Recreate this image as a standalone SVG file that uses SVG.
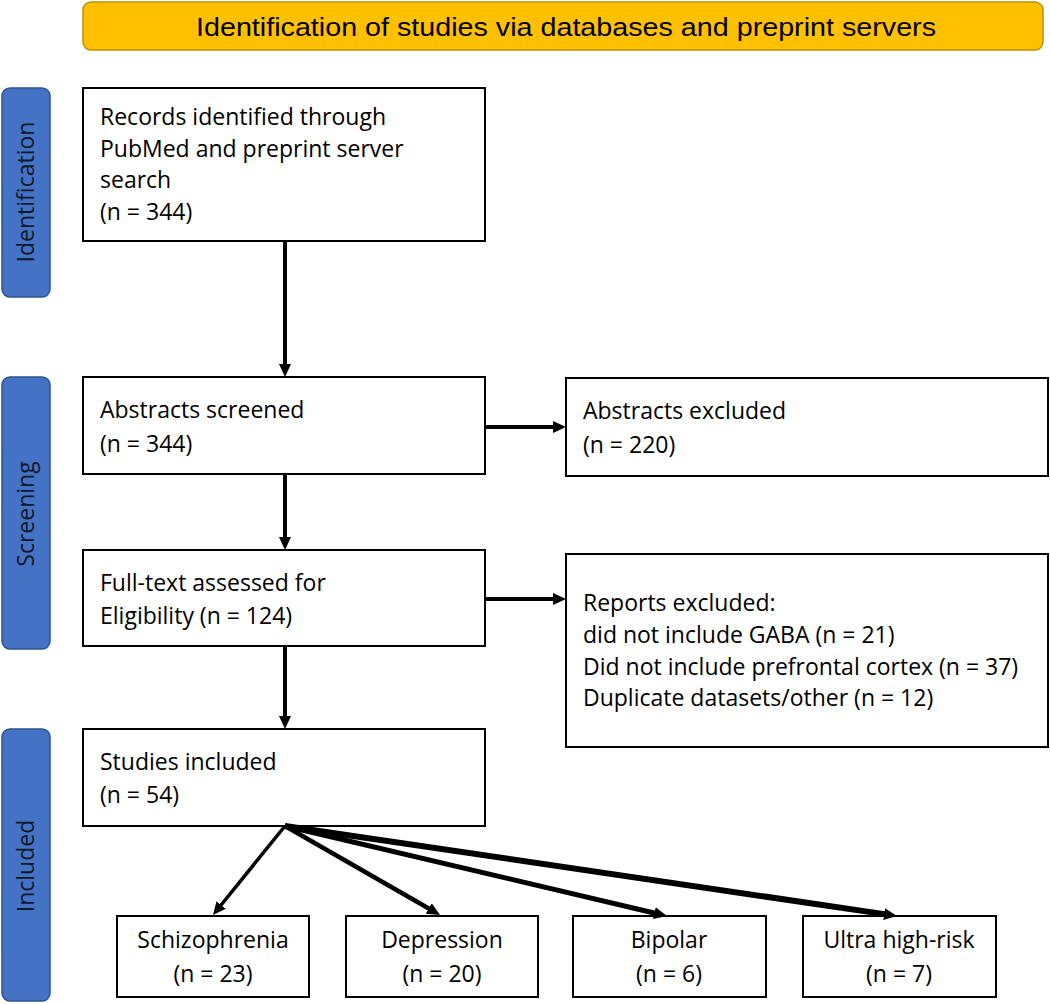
<svg xmlns="http://www.w3.org/2000/svg" width="1050" height="1004" viewBox="0 0 1050 1004">
<style>
.box{fill:#fff;stroke:#000;stroke-width:2}
.side{fill:#4472C4;stroke:#2F528F;stroke-width:1.5}
.t{font-family:"Open Sans","Liberation Sans",sans-serif;font-size:23px;fill:#000}
.st{font-family:"Open Sans","Liberation Sans",sans-serif;font-size:23px;fill:#111827;text-anchor:middle}
.c{text-anchor:middle}
.arr{fill:none;stroke:#000;marker-end:url(#ah)}
</style>
<defs>
<marker id="ah" viewBox="0 0 13 12" refX="2" refY="6" markerWidth="13" markerHeight="12" markerUnits="userSpaceOnUse" orient="auto"><path d="M0,0 L13,6 L0,12 z" fill="#000"/></marker>
</defs>
<rect width="1050" height="1004" fill="#fff"/>
<g id="banner">
<rect x="83" y="2" width="960" height="48" rx="8" fill="#FFC000" stroke="#BF9000" stroke-width="1.5"/>
<text x="566" y="36" font-family="Liberation Sans, sans-serif" font-size="26" text-anchor="middle" textLength="740" lengthAdjust="spacingAndGlyphs">Identification of studies via databases and preprint servers</text>
</g>
<g id="side-identification">
<rect class="side" x="2" y="88" width="48" height="209" rx="8"/>
<text class="st" transform="translate(34,192) rotate(-90)">Identification</text>
</g>
<g id="side-screening">
<rect class="side" x="2" y="377" width="48" height="272" rx="8"/>
<text class="st" transform="translate(34,514) rotate(-90)">Screening</text>
</g>
<g id="side-included">
<rect class="side" x="2" y="729" width="48" height="272" rx="8"/>
<text class="st" transform="translate(34,866) rotate(-90)">Included</text>
</g>
<g id="records">
<rect class="box" x="83" y="88" width="402" height="153"/>
<text class="t" x="100" y="125">Records identified through</text>
<text class="t" x="100" y="157">PubMed and preprint server</text>
<text class="t" x="100" y="188">search</text>
<text class="t" x="100" y="220">(n = 344)</text>
</g>
<g id="abstracts-screened">
<rect class="box" x="83" y="377" width="402" height="97"/>
<text class="t" x="100" y="418">Abstracts screened</text>
<text class="t" x="100" y="452">(n = 344)</text>
</g>
<g id="abstracts-excluded">
<rect class="box" x="566" y="378" width="482" height="98"/>
<text class="t" x="583" y="419">Abstracts excluded</text>
<text class="t" x="583" y="453">(n = 220)</text>
</g>
<g id="fulltext">
<rect class="box" x="83" y="550" width="402" height="96"/>
<text class="t" x="100" y="591">Full-text assessed for</text>
<text class="t" x="100" y="624">Eligibility (n = 124)</text>
</g>
<g id="reports-excluded">
<rect class="box" x="566" y="554" width="482" height="193"/>
<text class="t" x="583" y="611">Reports excluded:</text>
<text class="t" x="583" y="643">did not include GABA (n = 21)</text>
<text class="t" x="583" y="675">Did not include prefrontal cortex (n = 37)</text>
<text class="t" x="583" y="706">Duplicate datasets/other (n = 12)</text>
</g>
<g id="studies-included">
<rect class="box" x="83" y="729" width="402" height="97"/>
<text class="t" x="100" y="770">Studies included</text>
<text class="t" x="100" y="803">(n = 54)</text>
</g>
<g id="schizophrenia">
<rect class="box" x="117" y="916" width="192" height="81"/>
<text class="t c" x="213" y="948">Schizophrenia</text>
<text class="t c" x="213" y="982">(n = 23)</text>
</g>
<g id="depression">
<rect class="box" x="346" y="916" width="192" height="81"/>
<text class="t c" x="442" y="948">Depression</text>
<text class="t c" x="442" y="982">(n = 20)</text>
</g>
<g id="bipolar">
<rect class="box" x="573" y="916" width="193" height="81"/>
<text class="t c" x="669" y="948">Bipolar</text>
<text class="t c" x="669" y="982">(n = 6)</text>
</g>
<g id="ultra-high-risk">
<rect class="box" x="803" y="916" width="193" height="81"/>
<text class="t c" x="899" y="948">Ultra high-risk</text>
<text class="t c" x="899" y="982">(n = 7)</text>
</g>
<g id="connectors">
<path class="arr" stroke-width="4" d="M285,241 L285,366"/>
<path class="arr" stroke-width="4" d="M285,474 L285,539"/>
<path class="arr" stroke-width="4" d="M285,646 L285,718"/>
<path class="arr" stroke-width="4" d="M485,427 L555,427"/>
<path class="arr" stroke-width="4" d="M485,599 L555,599"/>
<path class="arr" stroke-width="3.5" d="M285,826 L219.9,906.5"/>
<path class="arr" stroke-width="4.5" d="M285,826 L430.5,909.5"/>
<path class="arr" stroke-width="5" d="M285,826 L656.3,913.5"/>
<path class="arr" stroke-width="6" d="M285,826 L886.1,914.4"/>
</g>
</svg>
